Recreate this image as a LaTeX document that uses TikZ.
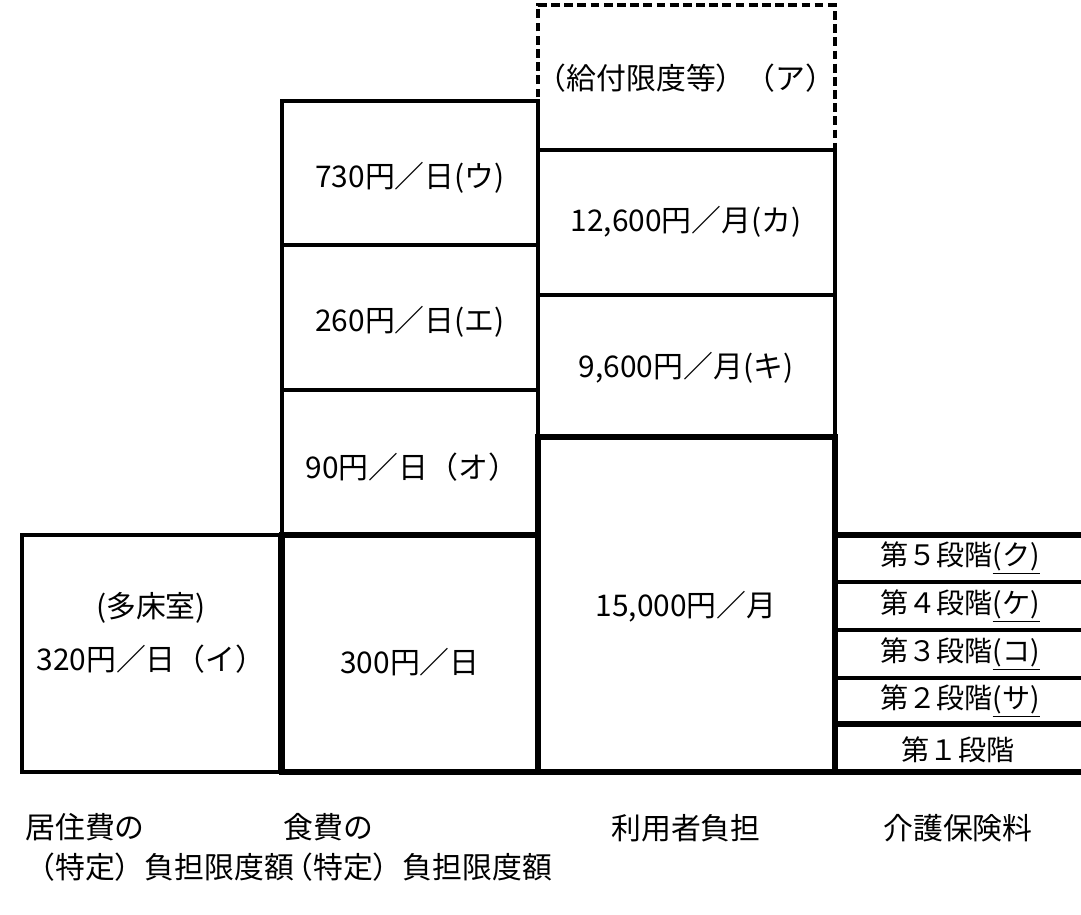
\documentclass[tikz,border=0pt]{standalone}
\usepackage{fontspec}
\setmainfont{Noto Sans CJK JP}
\usepackage{tikz}

\tikzset{
  thinline/.style={black,line width=2pt},
  thickline/.style={black,line width=3.4pt},
  dashline/.style={black,line width=2pt,dash pattern=on 5pt off 2.5pt},
  label/.style={font=\fontsize{17}{23}\selectfont,inner sep=0pt},
  rank/.style={font=\fontsize{16}{20}\selectfont,inner sep=0pt}
}

\begin{document}
\begin{tikzpicture}[x=0.02cm,y=-0.02cm]
          \useasboundingbox (0,0) rectangle (1081,914);

          % residence cost
          \draw[thinline] (22,535) rectangle (280,772);
          \node[label,align=center] (kyoju) at (151,633) {(多床室)\\[7pt]320円／日（イ）};

          % food cost
          \draw[thinline] (282,101) rectangle (538,535);
          \draw[thinline] (282,245) -- (538,245);
          \draw[thinline] (282,390) -- (538,390);
          \node[label] (shokuU) at (410,178) {730円／日(ウ)};
          \node[label] (shokuE) at (410,322) {260円／日(エ)};
          \node[label] (shokuO) at (412,467) {90円／日（オ）};

          \draw[thickline] (282,535) rectangle (538,772);
          \node[label] (shoku) at (410,662) {300円／日};

          % user burden
          \draw[dashline] (538,150) -- (538,5) -- (835,5) -- (835,150);
          \node[label] (kyufu) at (686,78) {（給付限度等）（ア）};

          \draw[thinline] (538,150) rectangle (835,437);
          \draw[thinline] (538,295) -- (835,295);
          \node[label] (futanKa) at (686,222) {12,600円／月(カ)};
          \node[label] (futanKi) at (686,368) {9,600円／月(キ)};

          \draw[thickline] (538,437) rectangle (835,772);
          \node[label] (futan) at (686,607) {15,000円／月};

          % insurance premium
          \draw[thickline] (835,535) -- (1081,535);
          \draw[thinline] (835,582) -- (1081,582);
          \draw[thinline] (835,630) -- (1081,630);
          \draw[thinline] (835,678) -- (1081,678);
          \draw[thickline] (835,724) -- (1081,724);
          \draw[thickline] (280,772) -- (1081,772);
          \node[rank] (dan5) at (960,558) {第５段階\underline{(ク)}};
          \node[rank] (dan4) at (960,606) {第４段階\underline{(ケ)}};
          \node[rank] (dan3) at (960,654) {第３段階\underline{(コ)}};
          \node[rank] (dan2) at (960,701) {第２段階\underline{(サ)}};
          \node[rank] (dan1) at (958,750) {第１段階};

          % column titles
          \node[label,align=left,anchor=north west] (titleKyoju) at (25,813) {居住費の\\（特定）負担限度額};
          \node[label,align=left,anchor=north west] (titleShoku) at (283,813) {食費の\\（特定）負担限度額};
          \node[label] (titleFutan) at (686,828) {利用者負担};
          \node[label] (titleHoken) at (958,828) {介護保険料};

        \end{tikzpicture}
\end{document}
